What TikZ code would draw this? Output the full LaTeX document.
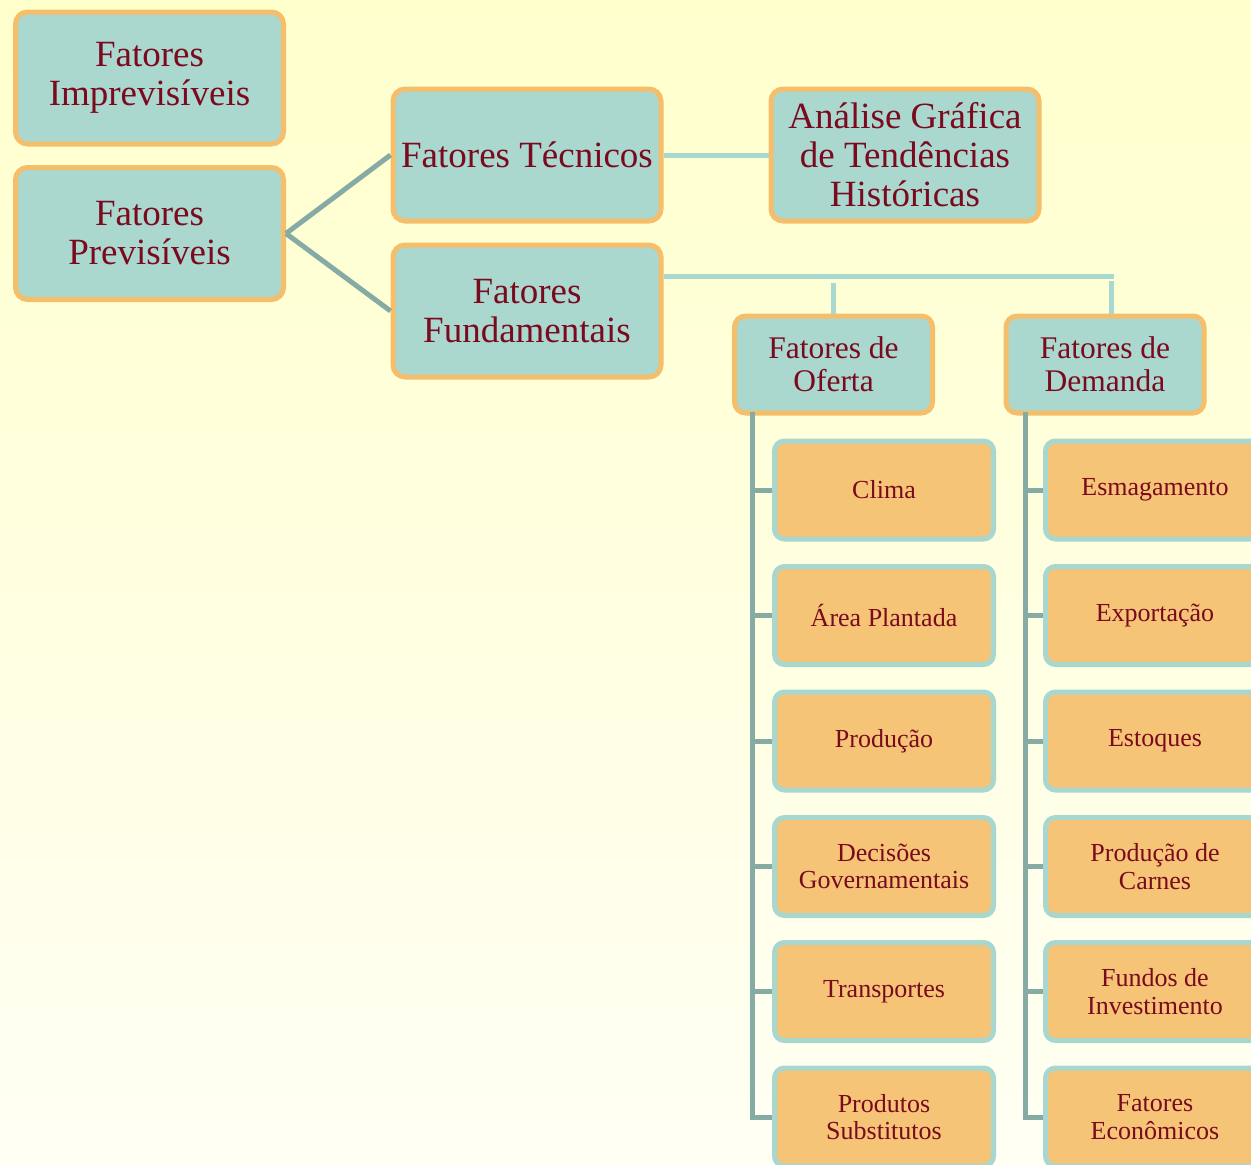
\documentclass[tikz,border=0pt]{standalone}
\usepackage{fontspec}
\setmainfont{Liberation Serif}
\definecolor{tealf}{HTML}{AAD8CF}
\definecolor{bord}{HTML}{F5BE6A}
\definecolor{leafbord}{HTML}{A8D7D0}
\definecolor{orangef}{HTML}{F5C476}
\definecolor{connc}{HTML}{86ABA4}
\definecolor{lconnc}{HTML}{A8D8D0}
\definecolor{txt}{HTML}{7A0A1E}
\definecolor{bgtop}{HTML}{FFFFCC}
\definecolor{bgbot}{HTML}{FFFFF4}
\tikzset{
  bigbox/.style={draw=bord, line width=5pt, fill=tealf, rounded corners=12pt,
    minimum width=268pt, minimum height=132pt, text=txt, align=center, inner sep=0pt,
    font=\fontsize{37}{39}\selectfont},
  midbox/.style={draw=bord, line width=5pt, fill=tealf, rounded corners=11pt,
    minimum width=198pt, minimum height=97pt, text=txt, align=center, inner sep=0pt,
    font=\fontsize{31.5}{33}\selectfont},
  leafbox/.style={draw=leafbord, line width=5pt, fill=orangef, rounded corners=10pt,
    minimum width=219pt, minimum height=98pt, text=txt, align=center, inner sep=0pt,
    font=\fontsize{26}{27.5}\selectfont},
  conn/.style={draw=connc, line width=5pt},
  lconn/.style={draw=lconnc, line width=5pt},
}
\begin{document}
\begin{tikzpicture}[x=1pt,y=-1pt]
\useasboundingbox (0,0) rectangle (1251,1165);
\clip (0,0) rectangle (1251,1165);
\shade[top color=bgtop, bottom color=bgbot] (0,0) rectangle (1251,1165);

% top level
\node[bigbox] (imp) at (149.5,78) {Fatores\\Imprevisíveis};
\node[bigbox] (prev) at (149.5,233.5) {Fatores\\Previsíveis};
\node[bigbox] (tec) at (527,155) {Fatores Técnicos};
\node[bigbox] (ana) at (905,155) {Análise Gráfica\\de Tendências\\Históricas};
\node[bigbox] (fund) at (527,311) {Fatores\\Fundamentais};
\node[midbox] (ofe) at (833.5,364.5) {Fatores de\\Oferta};
\node[midbox] (dem) at (1105,364.5) {Fatores de\\Demanda};

% leaves
\node[leafbox] (l1) at (884,490) {Clima};
\node[leafbox] (l2) at (884,615.5) {Área Plantada};
\node[leafbox] (l3) at (884,741) {Produção};
\node[leafbox] (l4) at (884,866.5) {Decisões\\Governamentais};
\node[leafbox] (l5) at (884,991.5) {Transportes};
\node[leafbox] (l6) at (884,1117) {Produtos\\Substitutos};

\node[leafbox] (r1) at (1155,490) {Esmagamento};
\node[leafbox] (r2) at (1155,615.5) {Exportação};
\node[leafbox] (r3) at (1155,741) {Estoques};
\node[leafbox] (r4) at (1155,866.5) {Produção de\\Carnes};
\node[leafbox] (r5) at (1155,991.5) {Fundos de\\Investimento};
\node[leafbox] (r6) at (1155,1117) {Fatores\\Econômicos};

% connectors
\draw[conn] (prev.east) -- (tec.west);
\draw[conn] (prev.east) -- (fund.west);
\draw[lconn] (tec.east) -- (ana.west);

\coordinate (fj) at (1113.5,276);
\draw[lconn] (fund.east |- fj) -- (fj);
\coordinate (s1) at (833.5,283);
\coordinate (s2) at (1111,281);
\draw[lconn] (s1) -- (s1 |- ofe.north);
\draw[lconn] (s2) -- (s2 |- dem.north);

\coordinate (ov) at (752,412);
\coordinate (dv) at (1025,412);
\draw[conn] (ov) |- (l6.west);
\foreach \n in {l1,l2,l3,l4,l5} \draw[conn] (ov |- \n.west) -- (\n.west);
\draw[conn] (dv) |- (r6.west);
\foreach \n in {r1,r2,r3,r4,r5} \draw[conn] (dv |- \n.west) -- (\n.west);
\end{tikzpicture}
\end{document}
